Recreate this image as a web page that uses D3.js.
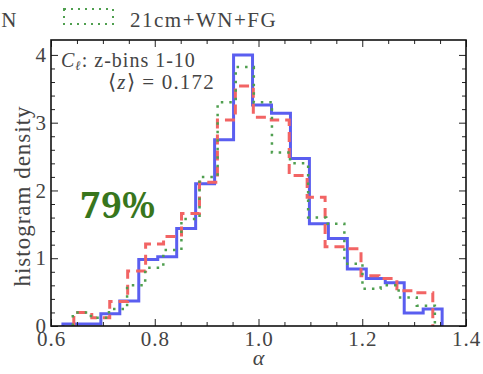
<!DOCTYPE html>
<html>
<head>
<meta charset="utf-8">
<script src="https://cdn.jsdelivr.net/npm/d3@7"></script>
<style>
  body { margin: 0; background: #fff; }
</style>
</head>
<body>
<div id="viz-container"></div>
<script>
// histogram heights, 20 equal bins per series
let blueHeights  = [0.03, 0.03, 0.18, 0.37, 0.98, 1.02, 1.44, 2.10, 2.75, 4.00,
                    3.26, 3.14, 2.47, 1.51, 1.29, 0.84, 0.70, 0.64, 0.19, 0.25];
let redHeights   = [0.20, 0.12, 0.36, 0.81, 1.21, 1.32, 1.66, 2.12, 3.04, 3.54,
                    3.08, 3.04, 2.22, 1.90, 1.17, 1.14, 0.74, 0.70, 0.52, 0.49];
let greenHeights = [0.20, 0.12, 0.25, 0.60, 0.86, 1.12, 1.58, 2.20, 3.30, 3.82,
                    3.30, 2.56, 2.40, 1.60, 1.51, 0.92, 0.55, 0.60, 0.42, 0.30];
// alpha range covered by each histogram
let blueRange  = [0.623, 1.354];
let redRange   = [0.644, 1.336];
let greenRange = [0.642, 1.340];

let xTicks = [0.6, 0.8, 1.0, 1.2, 1.4];
let yTicks = [0, 1, 2, 3, 4];

let serif = '"Liberation Serif", "Times New Roman", serif';
let textColor = "#444";

let viz = d3.select("#viz-container")
  .append("svg")
  .attr("width", 483)
  .attr("height", 374)
;

let x = d3.scaleLinear().domain([0.6, 1.4]).range([51, 466]);
let y = d3.scaleLinear().domain([0, 4.22]).range([326, 40]);

function edges(range, n){
  let w = (range[1] - range[0]) / n;
  return d3.range(n + 1).map(i => range[0] + i * w);
}

function stepPoints(heights, range){
  let e = edges(range, heights.length);
  let pts = [[e[0], 0]];
  heights.forEach((h, i) => pts.push([e[i], h]));
  pts.push([e[e.length - 1], heights[heights.length - 1]]);
  pts.push([e[e.length - 1], 0]);
  return pts;
}

let line = d3.line()
  .x(d => x(d[0]))
  .y(d => y(d[1]))
  .curve(d3.curveStepAfter);

let series = [
  {h: blueHeights,  r: blueRange,  color: "#5a5ef0", dash: null,    w: 3},
  {h: redHeights,   r: redRange,   color: "#f26464", dash: "10,6",  w: 3},
  {h: greenHeights, r: greenRange, color: "#4f9f4f", dash: "2.5,6", w: 2.5}
];

viz.selectAll("path.hist").data(series).enter().append("path")
  .attr("class", "hist")
  .attr("d", d => line(stepPoints(d.h, d.r)))
  .attr("fill", "none")
  .attr("stroke", d => d.color)
  .attr("stroke-width", d => d.w)
  .attr("stroke-dasharray", d => d.dash)
;

// frame and ticks (inside, all four sides)
let x0 = x.range()[0], x1 = x.range()[1], y0 = y.range()[0], y1 = y.range()[1];

let bottomAxis = d3.axisBottom(x).tickValues(xTicks).tickSize(-7).tickFormat(d3.format(".1f")).tickPadding(5);
let topAxis = d3.axisTop(x).tickValues(xTicks).tickSize(-7).tickFormat("");
let leftAxis = d3.axisLeft(y).tickValues(yTicks).tickSize(-7).tickFormat(d3.format("d")).tickPadding(4);
let rightAxis = d3.axisRight(y).tickValues(yTicks).tickSize(-7).tickFormat("");

let minorX = d3.range(0.65, 1.4, 0.05).filter(v => Math.abs(v * 5 - Math.round(v * 5)) > 0.01);
let minorY = d3.range(0.2, 4.2, 0.2).filter(v => Math.abs(v - Math.round(v)) > 0.01);

function minorAxis(a, vals){ return a.tickValues(vals).tickSize(-4).tickFormat(""); }

viz.append("g").attr("transform", `translate(0,${y0})`).call(bottomAxis);
viz.append("g").attr("transform", `translate(0,${y1})`).call(topAxis);
viz.append("g").attr("transform", `translate(${x0},0)`).call(leftAxis);
viz.append("g").attr("transform", `translate(${x1},0)`).call(rightAxis);
viz.append("g").attr("transform", `translate(0,${y0})`).call(minorAxis(d3.axisBottom(x), minorX));
viz.append("g").attr("transform", `translate(0,${y1})`).call(minorAxis(d3.axisTop(x), minorX));
viz.append("g").attr("transform", `translate(${x0},0)`).call(minorAxis(d3.axisLeft(y), minorY));
viz.append("g").attr("transform", `translate(${x1},0)`).call(minorAxis(d3.axisRight(y), minorY));

viz.selectAll(".domain").remove();
viz.selectAll(".tick line").attr("stroke", "#222").attr("stroke-width", 1);
viz.selectAll(".tick text")
  .style("font-family", serif)
  .style("font-size", "21px")
  .style("letter-spacing", "1px")
  .style("fill", textColor);

viz.append("rect")
  .attr("x", x0).attr("y", y1)
  .attr("width", x1 - x0).attr("height", y0 - y1)
  .attr("fill", "none").attr("stroke", "#111").attr("stroke-width", 1.6);

function label(sel){
  return sel.style("font-family", serif).style("fill", textColor);
}

// axis labels
label(viz.append("text"))
  .attr("transform", `translate(22,196) rotate(-90)`)
  .attr("text-anchor", "middle")
  .attr("dominant-baseline", "central")
  .style("font-size", "23px")
  .style("letter-spacing", "1px")
  .text("histogram density");

label(viz.append("text"))
  .attr("x", x(1.0)).attr("y", 365)
  .attr("text-anchor", "middle")
  .style("font-size", "22px")
  .style("font-style", "italic")
  .text("α");

// annotation
let ann = label(viz.append("text")).attr("x", 61).attr("y", 67)
  .style("font-size", "20px").style("letter-spacing", "1px");
ann.append("tspan").style("font-style", "italic").text("C");
ann.append("tspan").attr("dy", 3).style("font-size", "13px").style("font-style", "italic").text("ℓ");
ann.append("tspan").attr("dy", -3).text(": z-bins 1-10");

let ann2 = label(viz.append("text")).attr("x", 108).attr("y", 89)
  .style("font-size", "21px").style("letter-spacing", "1.2px");
ann2.append("tspan").text("⟨");
ann2.append("tspan").style("font-style", "italic").text("z");
ann2.append("tspan").text("⟩ = 0.172");

// legend (cropped at top edge)
label(viz.append("text"))
  .attr("x", 18).attr("y", 27)
  .attr("text-anchor", "end")
  .style("font-size", "21px")
  .style("letter-spacing", "1.5px")
  .text("21cm+WN");

viz.append("rect")
  .attr("x", 64).attr("y", 9)
  .attr("width", 49).attr("height", 15)
  .attr("fill", "none")
  .attr("stroke", "#4f9f4f")
  .attr("stroke-width", 2)
  .attr("stroke-dasharray", "2,5");

label(viz.append("text"))
  .attr("x", 130).attr("y", 27)
  .style("font-size", "21px")
  .style("letter-spacing", "1.5px")
  .text("21cm+WN+FG");

// percentage badge
viz.append("text")
  .attr("x", 80).attr("y", 218)
  .style("font-family", '"Noto Serif", serif')
  .style("font-weight", "bold")
  .style("font-size", "37px")
  .style("fill", "#38761d")
  .text("79%");
</script>
</body>
</html>
